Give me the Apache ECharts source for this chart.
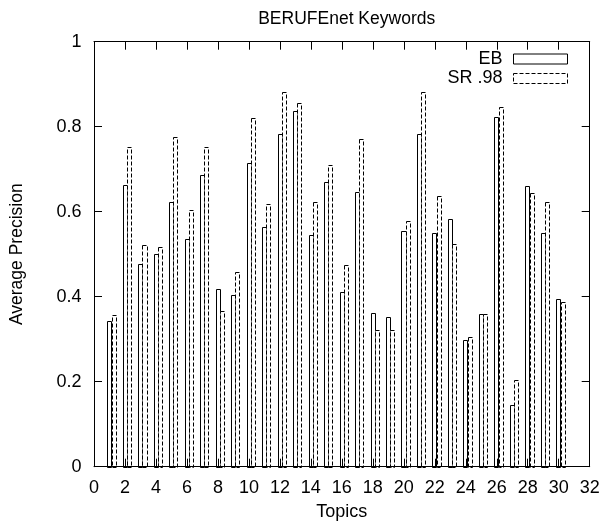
<!DOCTYPE html>
<html>
<head>
<meta charset="utf-8">
<script src="https://cdn.jsdelivr.net/npm/echarts@6/dist/echarts.min.js"></script>
<style>
html,body{margin:0;padding:0;background:#fff;}
#chart{width:605px;height:526px;}
</style>
</head>
<body>
<div id="chart"></div>
<script>
const topics = [1,2,3,4,5,6,7,8,9,10,11,12,13,14,15,16,17,18,19,20,21,22,23,24,25,26,27,28,29,30];
const ebValues = [0.342,0.662,0.477,0.500,0.624,0.536,0.686,0.419,0.403,0.715,0.563,0.784,0.837,0.545,0.671,0.410,0.646,0.361,0.352,0.554,0.784,0.549,0.584,0.299,0.359,0.822,0.145,0.660,0.549,0.395];
const srValues = [0.356,0.753,0.522,0.516,0.775,0.604,0.753,0.367,0.457,0.820,0.617,0.882,0.855,0.624,0.709,0.474,0.770,0.321,0.321,0.578,0.882,0.636,0.523,0.306,0.360,0.846,0.204,0.643,0.624,0.388];
const xTicks = {min:0, max:32, interval:2};
const yTicks = {min:0, max:1, interval:0.2};
const seriesNames = ['EB', 'SR .98'];

const FONT = 'Liberation Sans, Arial, Helvetica, sans-serif';

function makeRender(off0, off1, dashed) {
  return function (params, api) {
    const x = api.value(0), y = api.value(1);
    const pTop = api.coord([x + off0, y]);
    const pBot = api.coord([x + off1, 0]);
    const x0 = Math.round(pTop[0]) + 0.5;
    const x1 = Math.round(pBot[0]) + 0.5;
    const y0 = Math.round(pTop[1]) + 0.5;
    const y1 = Math.round(pBot[1]) + 0.5;
    return {
      type: 'rect',
      shape: {x: x0, y: y0, width: x1 - x0, height: y1 - y0},
      style: {fill: '#fff', stroke: '#000', lineWidth: 1, lineDash: dashed ? [4, 2] : null}
    };
  };
}

function axisCommon() {
  return {
    type: 'value',
    axisLine: {show: true, onZero: false, lineStyle: {color: '#000', width: 1}},
    axisTick: {show: true, inside: true, length: 8, lineStyle: {color: '#000', width: 1}},
    splitLine: {show: false}
  };
}

const chart = echarts.init(document.getElementById('chart'), null, {renderer: 'canvas'});
chart.setOption({
  animation: false,
  backgroundColor: '#fff',
  textStyle: {fontFamily: FONT},
  title: {
    text: 'BERUFEnet Keywords',
    left: 341.7, top: 5, textAlign: 'center',
    textStyle: {fontFamily: FONT, fontSize: 17.5, fontWeight: 'normal', color: '#000'}
  },
  legend: {
    orient: 'vertical',
    right: 37, top: 50, padding: 0,
    align: 'right',
    itemWidth: 54, itemHeight: 10, itemGap: 1.5,
    textStyle: {fontFamily: FONT, fontSize: 18, color: '#000', padding: [0, 6, 0, 0]},
    data: [
      {name: seriesNames[0], icon: 'rect', itemStyle: {color: '#fff', borderColor: '#000', borderWidth: 1}},
      {name: seriesNames[1], icon: 'rect', itemStyle: {color: '#fff', borderColor: '#000', borderWidth: 1, borderType: [4, 2]}}
    ]
  },
  grid: {left: 93.7, right: 15.3, top: 41.7, bottom: 59.3, containLabel: false},
  xAxis: [
    Object.assign(axisCommon(), {
      position: 'bottom', min: xTicks.min, max: xTicks.max, interval: xTicks.interval, z: 5,
      axisLabel: {fontFamily: FONT, fontSize: 18, color: '#000', margin: 12},
      name: 'Topics', nameLocation: 'middle', nameGap: 36,
      nameTextStyle: {fontFamily: FONT, fontSize: 18, color: '#000'}
    }),
    Object.assign(axisCommon(), {
      position: 'top', min: xTicks.min, max: xTicks.max, interval: xTicks.interval, z: 5,
      axisLabel: {show: false}
    })
  ],
  yAxis: [
    Object.assign(axisCommon(), {
      position: 'left', min: yTicks.min, max: yTicks.max, interval: yTicks.interval, z: 5,
      axisLabel: {fontFamily: FONT, fontSize: 18, color: '#000', margin: 12.5},
      name: 'Average Precision', nameLocation: 'middle', nameGap: 68,
      nameTextStyle: {fontFamily: FONT, fontSize: 17.5, color: '#000'}
    }),
    Object.assign(axisCommon(), {
      position: 'right', min: yTicks.min, max: yTicks.max, interval: yTicks.interval, z: 5,
      axisLabel: {show: false}
    })
  ],
  series: [
    {
      name: seriesNames[0], type: 'custom', xAxisIndex: 0, yAxisIndex: 0,
      itemStyle: {color: '#fff', borderColor: '#000'},
      renderItem: makeRender(-0.15, 0.11, false),
      data: topics.map((t, i) => [t, ebValues[i]])
    },
    {
      name: seriesNames[1], type: 'custom', xAxisIndex: 0, yAxisIndex: 0,
      itemStyle: {color: '#fff', borderColor: '#000'},
      renderItem: makeRender(0.13, 0.39, true),
      data: topics.map((t, i) => [t, srValues[i]])
    }
  ]
});
</script>
</body>
</html>
